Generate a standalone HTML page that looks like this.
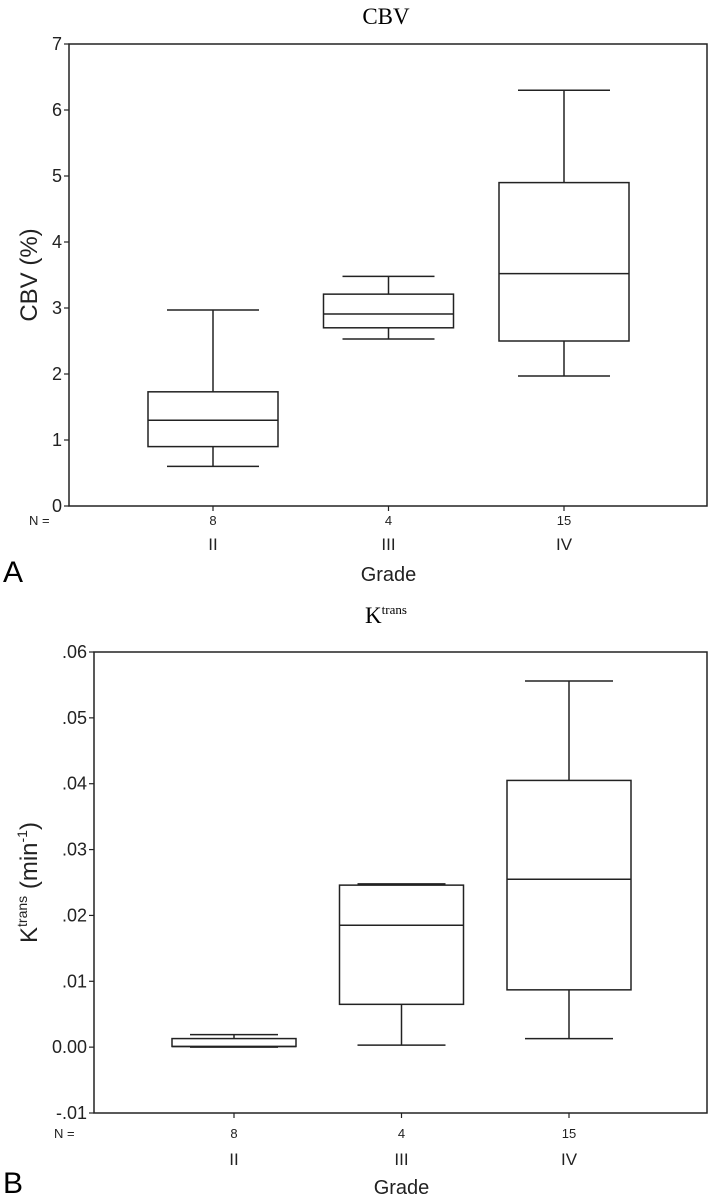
<!DOCTYPE html>
<html><head><meta charset="utf-8"><style>
body{margin:0;background:#fff;}
svg{display:block;font-family:"Liberation Sans",sans-serif;}
</style></head><body>
<svg id="fig" width="711" height="1199" viewBox="0 0 711 1199">
<text x="386" y="24" font-family="Liberation Serif,serif" font-size="23" text-anchor="middle">CBV</text>
<text x="386" y="623" font-family="Liberation Serif,serif" font-size="23" text-anchor="middle">K<tspan font-size="13" dy="-9">trans</tspan></text>
<text x="3" y="582" font-size="30">A</text>
<text x="3" y="1193" font-size="30">B</text>
<g id="chartA"></g>
<g id="chartB"></g>
</svg>
<script>
const categories = ["II","III","IV"];
const counts = ["8","4","15"];
const cbvMin = [0.6, 2.53, 1.97];
const cbvQ1 = [0.9, 2.70, 2.5];
const cbvMed = [1.3, 2.91, 3.52];
const cbvQ3 = [1.73, 3.21, 4.9];
const cbvMax = [2.97, 3.48, 6.3];
const cbvTicks = [0,1,2,3,4,5,6,7];
const cbvTickLabels = ["0","1","2","3","4","5","6","7"];
const ktMin = [0.0000, 0.0003, 0.0013];
const ktQ1 = [0.0001, 0.0065, 0.0087];
const ktMed = [0.0001, 0.0185, 0.0255];
const ktQ3 = [0.0013, 0.0246, 0.0405];
const ktMax = [0.0019, 0.0248, 0.0556];
const ktTicks = [-0.01,0,0.01,0.02,0.03,0.04,0.05,0.06];
const ktTickLabels = ["-.01","0.00",".01",".02",".03",".04",".05",".06"];

const NS="http://www.w3.org/2000/svg";
function mk(parent,tag,attrs,txt){const e=document.createElementNS(NS,tag);for(const k in attrs)e.setAttribute(k,attrs[k]);if(txt!==undefined)e.textContent=txt;parent.appendChild(e);return e;}

function drawChart(g,cfg){
  const {left,right,top,bottom,ymin,ymax,x0,dx,boxHalf,whHalf,mins,q1,med,q3,maxs,ticks,tickLabels,nY,catY,gradeY,ytitle} = cfg;
  const y=v=>bottom-(v-ymin)/(ymax-ymin)*(bottom-top);
  const x=i=>x0+dx*i;
  const frame=mk(g,'rect',{x:left,y:top,width:right-left,height:bottom-top,fill:'none',stroke:'#222','stroke-width':1.5});
  
  
  ticks.forEach((t,i)=>{
    const tk=mk(g,'line',{x1:left-5,x2:left,y1:y(t),y2:y(t),stroke:'#222','stroke-width':1.2});
    
    
    const lb=mk(g,'text',{x:left-7,y:y(t)+6,'font-size':18,'text-anchor':'end',fill:'#222'},tickLabels[i]);
    
    
  });
  const nl=mk(g,'text',{x:left-40,y:nY,'font-size':13,fill:'#222'},'N =');
  
  
  categories.forEach((c,i)=>{
    const cx=x(i);
    const tk=mk(g,'line',{x1:cx,x2:cx,y1:bottom,y2:bottom+5,stroke:'#222','stroke-width':1.2});
    
    
    const nt=mk(g,'text',{x:cx,y:nY,'font-size':13,'text-anchor':'middle',fill:'#222'},counts[i]);
    
    
    const ct=mk(g,'text',{x:cx,y:catY,'font-size':17,'text-anchor':'middle',fill:'#222'},c);
    
    
    const bg=mk(g,'g',{stroke:'#222','stroke-width':1.5,fill:'none'});
    
    
    mk(bg,'line',{x1:cx,x2:cx,y1:y(maxs[i]),y2:y(q3[i])});
    mk(bg,'line',{x1:cx,x2:cx,y1:y(q1[i]),y2:y(mins[i])});
    mk(bg,'line',{x1:cx-whHalf,x2:cx+whHalf,y1:y(maxs[i]),y2:y(maxs[i])});
    mk(bg,'line',{x1:cx-whHalf,x2:cx+whHalf,y1:y(mins[i]),y2:y(mins[i])});
    mk(bg,'rect',{x:cx-boxHalf,y:y(q3[i]),width:2*boxHalf,height:Math.max(1,y(q1[i])-y(q3[i]))});
    mk(bg,'line',{x1:cx-boxHalf,x2:cx+boxHalf,y1:y(med[i]),y2:y(med[i])});
  });
  const gt=mk(g,'text',{x:x(1),y:gradeY,'font-size':20,'text-anchor':'middle',fill:'#222'},'Grade');
  
  
  const cy=(top+bottom)/2;
  const yt=mk(g,'text',{x:0,y:0,'font-size':24,'text-anchor':'middle',fill:'#222',transform:`translate(37,${cy}) rotate(-90)`});
  
  
  yt.innerHTML=ytitle;
}
drawChart(document.getElementById('chartA'),{left:69,right:707,top:44,bottom:506,ymin:0,ymax:7,x0:213,dx:175.5,boxHalf:65,whHalf:46,
  mins:cbvMin,q1:cbvQ1,med:cbvMed,q3:cbvQ3,maxs:cbvMax,ticks:cbvTicks,tickLabels:cbvTickLabels,nY:525,catY:550,gradeY:581,ytitle:'CBV (%)'});
drawChart(document.getElementById('chartB'),{left:94,right:707,top:652,bottom:1113,ymin:-0.01,ymax:0.06,x0:234,dx:167.5,boxHalf:62,whHalf:44,
  mins:ktMin,q1:ktQ1,med:ktMed,q3:ktQ3,maxs:ktMax,ticks:ktTicks,tickLabels:ktTickLabels,nY:1138,catY:1165,gradeY:1194,ytitle:'K<tspan font-size="14" dy="-10">trans</tspan><tspan dy="10"> (min</tspan><tspan font-size="14" dy="-10">-1</tspan><tspan dy="10">)</tspan>'});
</script>
</body></html>
